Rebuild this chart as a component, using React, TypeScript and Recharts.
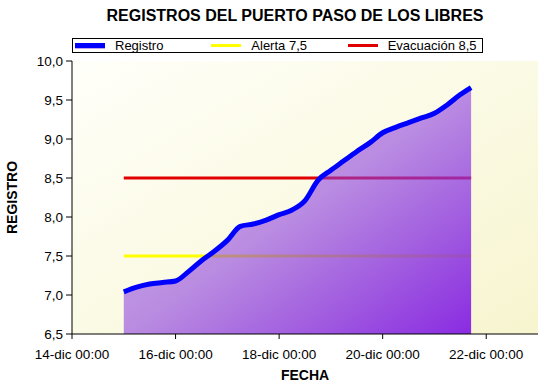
import { ComposedChart, Area, XAxis, YAxis, CartesianGrid, Legend, Label } from 'recharts'

// lecturas del puerto, cada 6 horas
const FECHAS = [
  '15-dic 00:00', '15-dic 06:00', '15-dic 12:00', '15-dic 18:00',
  '16-dic 00:00', '16-dic 06:00', '16-dic 12:00', '16-dic 18:00',
  '17-dic 00:00', '17-dic 06:00', '17-dic 12:00', '17-dic 18:00',
  '18-dic 00:00', '18-dic 06:00', '18-dic 12:00', '18-dic 18:00',
  '19-dic 00:00', '19-dic 06:00', '19-dic 12:00', '19-dic 18:00',
  '20-dic 00:00', '20-dic 06:00', '20-dic 12:00', '20-dic 18:00',
  '21-dic 00:00', '21-dic 06:00', '21-dic 12:00', '21-dic 17:00',
]
const REGISTROS = [
  7.04, 7.1, 7.14, 7.16,
  7.18, 7.3, 7.44, 7.56,
  7.7, 7.88, 7.91, 7.96,
  8.03, 8.09, 8.21, 8.47,
  8.6, 8.72, 8.84, 8.95,
  9.08, 9.15, 9.21, 9.27,
  9.33, 9.44, 9.57, 9.66,
]
const ALERTA = 7.5
const EVACUACION = 8.5

const X_RANGE = ['14-dic 00:00', '23-dic 00:00']
const X_TICKS = ['14-dic 00:00', '16-dic 00:00', '18-dic 00:00', '20-dic 00:00', '22-dic 00:00']
const Y_TICKS = [6.5, 7, 7.5, 8, 8.5, 9, 9.5, 10]

const NOMBRES: Record<string, string> = {
  registro: 'Registro',
  alerta: 'Alerta 7,5',
  evacuacion: 'Evacuación 8,5',
}
const ORDEN = ['registro', 'alerta', 'evacuacion']

const FONT = '"Liberation Sans", Arial, sans-serif'

function toHours(label: string) {
  const [d, hm] = label.split(' ')
  const day = parseInt(d.split('-')[0], 10)
  const [h, m] = hm.split(':').map(Number)
  return (day - 14) * 24 + h + m / 60
}

function formatHours(v: number) {
  const day = 14 + Math.floor(v / 24)
  const h = Math.round(v % 24)
  return `${day}-dic ${String(h).padStart(2, '0')}:00`
}

const data = FECHAS.map((f, i) => ({
  t: toHours(f),
  registro: REGISTROS[i],
  alerta: ALERTA,
  evacuacion: EVACUACION,
}))

const xDomain = X_RANGE.map(toHours)
const xMajor = X_TICKS.map(toHours)
const xMinor: number[] = []
for (let h = xDomain[0]; h <= xDomain[1]; h += 12) xMinor.push(h)
const yMinor: number[] = []
for (let i = 0; i <= 35; i++) yMinor.push(Math.round((6.5 + i * 0.1) * 10) / 10)

const tickStyle = { fill: '#000', fontSize: 13.5, fontFamily: FONT }

function Swatch({ k }: { k: string }) {
  if (k === 'registro') {
    return (
      <div style={{ width: 30, height: 5, background: '#0000ff', borderBottom: '1px solid #c4a4ea' }} />
    )
  }
  return <div style={{ width: 30, height: 3, background: k === 'alerta' ? '#ffff00' : '#e00000' }} />
}

function renderLegend(props: any) {
  const items = [...(props.payload ?? [])].sort(
    (a: any, b: any) => ORDEN.indexOf(a.dataKey) - ORDEN.indexOf(b.dataKey)
  )
  return (
    <div
      style={{
        boxSizing: 'border-box',
        width: 411,
        height: 15,
        border: '1px solid #000',
        display: 'flex',
        alignItems: 'center',
        fontFamily: FONT,
        fontSize: 13,
        background: '#fff',
      }}
    >
      {items.map((e: any) => (
        <div key={e.dataKey} style={{ width: 138, paddingLeft: 2, display: 'flex', alignItems: 'center', boxSizing: 'border-box' }}>
          <Swatch k={e.dataKey} />
          <span style={{ marginLeft: 10, lineHeight: '13px' }}>{NOMBRES[e.dataKey]}</span>
        </div>
      ))}
    </div>
  )
}

export default function App() {
  return (
    <div style={{ position: 'absolute', left: 0, top: 0, width: 540, height: 388, background: '#fff' }}>
      <div
        style={{
          position: 'absolute',
          left: 295,
          top: 7,
          transform: 'translateX(-50%)',
          whiteSpace: 'nowrap',
          fontFamily: FONT,
          fontWeight: 'bold',
          fontSize: 16,
          lineHeight: '18px',
        }}
      >
        REGISTROS DEL PUERTO PASO DE LOS LIBRES
      </div>
      <ComposedChart width={540} height={388} data={data} margin={{ top: 61, right: 2, bottom: 24, left: 0 }}>
        <defs>
          <linearGradient id="fondo" x1="0" y1="0" x2="1" y2="1">
            <stop offset="0%" stopColor="#fffffa" />
            <stop offset="100%" stopColor="#f7f5cf" />
          </linearGradient>
          <linearGradient id="relleno" x1="0" y1="0" x2="1" y2="1">
            <stop offset="0%" stopColor="#8a42e2" stopOpacity={0.4} />
            <stop offset="50%" stopColor="#8a3ce0" stopOpacity={0.58} />
            <stop offset="100%" stopColor="#8a2be2" stopOpacity={1} />
          </linearGradient>
        </defs>
        <CartesianGrid xAxisId="main" yAxisId="main" horizontal={false} vertical={false} fill="url(#fondo)" />
        <XAxis
          xAxisId="main"
          type="number"
          dataKey="t"
          domain={xDomain}
          allowDataOverflow
          ticks={xMajor}
          interval={0}
          tickFormatter={formatHours}
          height={30}
          tickSize={5}
          tickMargin={10}
          tick={tickStyle}
          stroke="#000"
        >
          <Label
            value="FECHA"
            position="bottom"
            offset={6}
            style={{ fill: '#000', fontFamily: FONT, fontWeight: 'bold', fontSize: 14 }}
          />
        </XAxis>
        <XAxis
          xAxisId="minor"
          type="number"
          domain={xDomain}
          allowDataOverflow
          ticks={xMinor}
          interval={0}
          mirror
          height={0}
          tick={false}
          tickSize={5}
          axisLine={false}
          stroke="#000"
        />
        <XAxis
          xAxisId="top"
          orientation="top"
          type="number"
          domain={xDomain}
          allowDataOverflow
          ticks={xMinor}
          interval={0}
          height={0}
          tick={false}
          tickSize={4}
          stroke="#000"
        />
        <YAxis
          yAxisId="main"
          type="number"
          domain={[6.5, 10]}
          allowDataOverflow
          ticks={Y_TICKS}
          interval={0}
          width={72}
          tickSize={6}
          tickMargin={3}
          tick={tickStyle}
          tickFormatter={(v: number) => v.toFixed(1).replace('.', ',')}
          stroke="#000"
        >
          <Label
            content={({ viewBox }: any) => {
              const cx = viewBox.x + 12
              const cy = viewBox.y + viewBox.height / 2
              return (
                <text
                  x={cx}
                  y={cy}
                  transform={`rotate(-90 ${cx} ${cy})`}
                  textAnchor="middle"
                  dominantBaseline="central"
                  style={{ fill: '#000', fontFamily: FONT, fontWeight: 'bold', fontSize: 14 }}
                >
                  REGISTRO
                </text>
              )
            }}
          />
        </YAxis>
        <YAxis
          yAxisId="minor"
          type="number"
          domain={[6.5, 10]}
          allowDataOverflow
          ticks={yMinor}
          interval={0}
          mirror
          width={0}
          tick={false}
          tickSize={4}
          axisLine={false}
          stroke="#000"
        />
        <YAxis
          yAxisId="right"
          orientation="right"
          type="number"
          domain={[6.5, 10]}
          allowDataOverflow
          ticks={Y_TICKS}
          interval={0}
          mirror
          width={0}
          tick={false}
          tickSize={7}
          stroke="#000"
        />
        <YAxis
          yAxisId="rightMinor"
          orientation="right"
          type="number"
          domain={[6.5, 10]}
          allowDataOverflow
          ticks={yMinor}
          interval={0}
          mirror
          width={0}
          tick={false}
          tickSize={4}
          axisLine={false}
          stroke="#000"
        />
        <Legend
          layout="vertical"
          align="center"
          verticalAlign="middle"
          wrapperStyle={{ left: 72, top: 38, width: 411, height: 15 }}
          content={renderLegend}
        />
        {/* umbrales como áreas sin relleno para que queden debajo del registro */}
        <Area
          xAxisId="main"
          yAxisId="main"
          dataKey="alerta"
          name={NOMBRES.alerta}
          type="linear"
          stroke="#ffff00"
          strokeWidth={3}
          fill="none"
          dot={false}
          activeDot={false}
          isAnimationActive={false}
        />
        <Area
          xAxisId="main"
          yAxisId="main"
          dataKey="evacuacion"
          name={NOMBRES.evacuacion}
          type="linear"
          stroke="#e00000"
          strokeWidth={3}
          fill="none"
          dot={false}
          activeDot={false}
          isAnimationActive={false}
        />
        <Area
          xAxisId="main"
          yAxisId="main"
          dataKey="registro"
          name={NOMBRES.registro}
          type="monotone"
          stroke="#0000ff"
          strokeWidth={5}
          fill="url(#relleno)"
          fillOpacity={1}
          dot={false}
          activeDot={false}
          isAnimationActive={false}
        />
      </ComposedChart>
    </div>
  )
}
